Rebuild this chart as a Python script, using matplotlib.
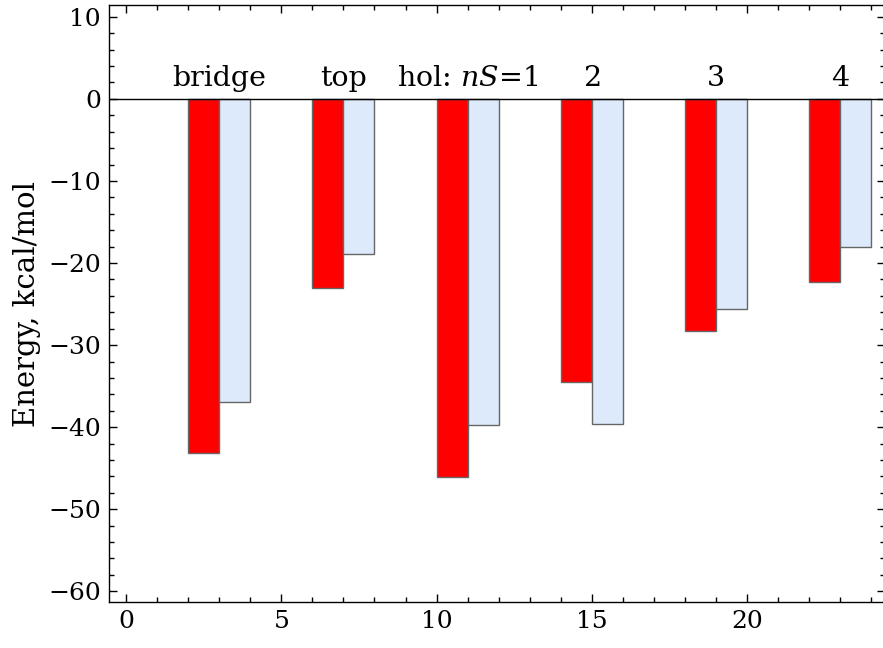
import matplotlib
matplotlib.use('Agg')
import matplotlib.pyplot as plt
from matplotlib.ticker import MultipleLocator

# adsorption energies per site, two methods side by side
sites = ['bridge', 'top', 'hol: $nS$=1', '2', '3', '4']
group_left = [2, 6, 10, 14, 18, 22]
energy_red = [-43.1, -23.1, -46.1, -34.5, -28.25, -22.3]
energy_blue = [-36.9, -18.9, -39.7, -39.6, -25.65, -18.0]

plt.rcParams['font.family'] = 'DejaVu Serif'
plt.rcParams['mathtext.fontset'] = 'dejavuserif'

fig = plt.figure(figsize=(8.83, 6.48), dpi=100)
ax = fig.add_axes([109.3 / 883, 46 / 648, 775.7 / 883, 596.7 / 648])

ax.bar(group_left, energy_red, width=1.0, align='edge', color='#ff0000',
       edgecolor='#666666', linewidth=1.0, zorder=2)
ax.bar([g + 1 for g in group_left], energy_blue, width=1.0, align='edge',
       color='#dceafb', edgecolor='#666666', linewidth=1.0, zorder=2)
ax.axhline(0, color='black', linewidth=1.0, zorder=3)

for g, name in zip(group_left, sites):
    ax.text(g + 1, 1.6, name, ha='center', va='baseline', fontsize=20.5)

ax.set_xlim(-0.54, 24.44)
ax.set_ylim(-61.3, 11.4)
ax.xaxis.set_major_locator(MultipleLocator(5))
ax.xaxis.set_minor_locator(MultipleLocator(1))
ax.yaxis.set_major_locator(MultipleLocator(10))
ax.yaxis.set_minor_locator(MultipleLocator(2))
ax.tick_params(which='both', direction='in', top=True, right=True,
               labelsize=18, width=1.0)
ax.tick_params(which='major', length=6, pad=6)
ax.tick_params(which='minor', length=3.5)
for s in ax.spines.values():
    s.set_linewidth(1.0)

ax.set_ylabel('Energy, kcal/mol', fontsize=21, labelpad=5)

fig.savefig('out.png', dpi=100)
